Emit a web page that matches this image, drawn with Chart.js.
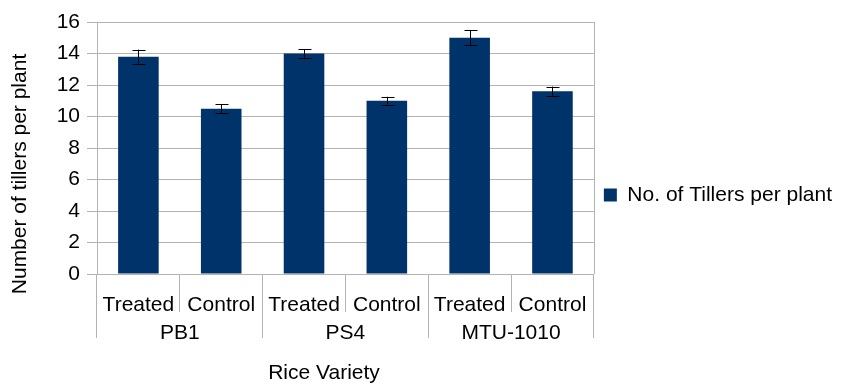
<!DOCTYPE html>
<html>
<head>
<meta charset="utf-8">
<script src="https://cdn.jsdelivr.net/npm/chart.js@4"></script>
<style>
  html, body { margin: 0; padding: 0; background: #fff; }
  #wrap { width: 842px; height: 384px; }
</style>
</head>
<body>
<div id="wrap"><canvas id="chart" width="842" height="384"></canvas></div>
<script>
const treatments = ['Treated', 'Control', 'Treated', 'Control', 'Treated', 'Control'];
const varieties = ['PB1', 'PS4', 'MTU-1010'];
const tillers = [13.8, 10.5, 14.0, 11.0, 15.0, 11.6];
const tillerErrors = [0.45, 0.27, 0.28, 0.25, 0.47, 0.30];
const yTicks = [0, 2, 4, 6, 8, 10, 12, 14, 16];

const FONT = '"Liberation Sans", Arial, sans-serif';
const GRID = '#b3b3b3';

// error bars drawn from the y scale
const errorBars = {
  id: 'errorBars',
  afterDatasetsDraw(chart) {
    const meta = chart.getDatasetMeta(0);
    const y = chart.scales.y;
    const ctx = chart.ctx;
    ctx.save();
    ctx.strokeStyle = '#000';
    ctx.lineWidth = 1;
    meta.data.forEach((bar, i) => {
      const top = y.getPixelForValue(tillers[i] + tillerErrors[i]);
      const bot = y.getPixelForValue(tillers[i] - tillerErrors[i]);
      const x = Math.round(bar.x) + 0.5;
      ctx.beginPath();
      ctx.moveTo(x, top); ctx.lineTo(x, bot);
      ctx.moveTo(x - 6, Math.round(top) + 0.5); ctx.lineTo(x + 7, Math.round(top) + 0.5);
      ctx.moveTo(x - 6, Math.round(bot) + 0.5); ctx.lineTo(x + 7, Math.round(bot) + 0.5);
      ctx.stroke();
    });
    ctx.restore();
  }
};

// right edge of the plot box + axis titles
const frameAndTitles = {
  id: 'frameAndTitles',
  afterDraw(chart) {
    const ctx = chart.ctx;
    const a = chart.chartArea;
    ctx.save();
    ctx.strokeStyle = GRID;
    ctx.lineWidth = 1;
    ctx.beginPath();
    const rx = Math.round(a.right) + 0.5;
    ctx.moveTo(rx, a.top); ctx.lineTo(rx, a.bottom);
    ctx.stroke();

    ctx.fillStyle = '#000';
    ctx.font = '21px ' + FONT;
    ctx.textAlign = 'center';
    ctx.textBaseline = 'middle';
    ctx.fillText('Rice Variety', 324, 373);
    ctx.translate(20, 174);
    ctx.rotate(-Math.PI / 2);
    ctx.fillText('Number of tillers per plant', 0, 0);
    ctx.restore();
  }
};

new Chart(document.getElementById('chart'), {
  type: 'bar',
  data: {
    labels: treatments,
    datasets: [{
      label: 'No. of Tillers per plant',
      data: tillers,
      backgroundColor: '#003369',
      borderWidth: 0,
      categoryPercentage: 1,
      barPercentage: 0.49
    }]
  },
  options: {
    responsive: false,
    animation: false,
    layout: { padding: { top: 22, bottom: 32, left: 0, right: 0 } },
    plugins: {
      tooltip: { enabled: false },
      legend: {
        position: 'right',
        maxWidth: 400,
        // empty title only nudges the entry down a little
        title: { display: true, text: ' ', font: { size: 10 }, padding: 2 },
        labels: {
          boxWidth: 13,
          boxHeight: 13,
          padding: 10,
          color: '#000',
          font: { family: FONT, size: 21 }
        }
      }
    },
    scales: {
      x: {
        type: 'category',
        offset: true,
        grid: { offset: true, drawOnChartArea: false, color: GRID, tickLength: 38 },
        border: { color: GRID },
        ticks: { color: '#000', padding: -19, maxRotation: 0, font: { family: FONT, size: 21 } },
        afterFit(scale) { scale.height = 38; }
      },
      x2: {
        type: 'category',
        labels: varieties,
        position: 'bottom',
        offset: true,
        grid: { offset: true, drawOnChartArea: false, color: GRID, tickLength: 26 },
        border: { display: false },
        ticks: { color: '#000', padding: -17, maxRotation: 0, font: { family: FONT, size: 21 } },
        afterFit(scale) { scale.height = 40; }
      },
      y: {
        min: 0,
        max: 16,
        afterBuildTicks(scale) { scale.ticks = yTicks.map(v => ({ value: v })); },
        grid: { color: GRID, tickLength: 10 },
        border: { color: GRID },
        ticks: { color: '#000', padding: 7, font: { family: FONT, size: 21 } },
        afterFit(scale) { scale.width = 97; }
      }
    }
  },
  plugins: [errorBars, frameAndTitles]
});
</script>
</body>
</html>
